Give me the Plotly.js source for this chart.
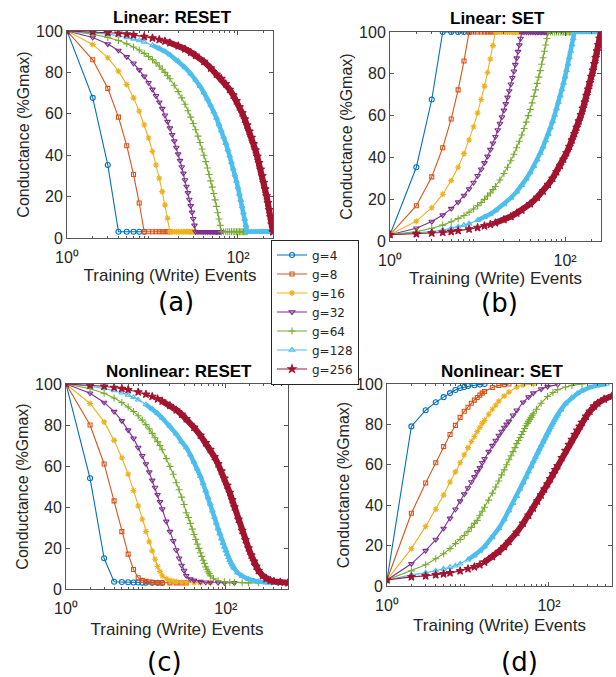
<!DOCTYPE html>
<html><head><meta charset="utf-8">
<script src="https://cdn.plot.ly/plotly-3.0.1.min.js"></script>
<style>html,body{margin:0;padding:0;background:#fff}</style>
</head><body><div id="chart" style="width:616px;height:677px"></div>
<script>
// ---------- series names / tick labels ----------
const seriesNames = ['g=4','g=8','g=16','g=32','g=64','g=128','g=256'];
const panelTitles = ['Linear: RESET','Linear: SET','Nonlinear: RESET','Nonlinear: SET'];
const panelLetters = ['(a)','(b)','(c)','(d)'];
const xTickVals = [1,100];
const xTickText = ['10\u2070','10\u00B2'];
const xMinorVals = [2,3,4,5,6,7,8,9,20,30,40,50,60,70,80,90,200,300,400,500,600];

// ---------- linear panels (a) RESET, (b) SET : write-event numbers ----------
const xL4 = [1,2,3,4,5,6,7,8];
const xL8 = [1,2,3,4,5,6,7,8,9,10,11,12,13,14,15,16];
const xL16 = [1,2,3,4,5,6,7,8,9,10,11,12,13,14,15,16,17,18,19,20,21,22,23,24,25,26,27,28,29,30,31,32];
const xL32 = [1,2,3,4,5,6,7,8,9,10,11,12,13,14,15,16,17,18,19,20,21,22,23,24,25,26,27,28,29,30,31,32,34,36,38,40,42,44,46,48,50,52,54,56,58,60,62,64];
const xL64 = [1,2,3,4,5,6,7,8,9,10,11,12,13,14,15,16,18,20,22,24,26,28,30,32,34,36,38,40,42,44,46,48,50,52,54,56,58,60,62,64,68,72,76,80,84,88,92,96,100,104,108,112,116,120,124,128];
const xL128 = [1,2,3,4,5,6,7,8,10,12,14,16,20,24,28,32,36,40,44,48,52,56,60,64,68,72,76,80,84,88,92,96,100,104,108,112,116,120,124,128,136,144,152,160,168,176,184,192,200,208,216,224,232,240,248,256];
const xL256 = [1,2,3,4,5,6,8,10,12,14,16,20,24,28,32,40,48,56,64,72,80,88,96,104,112,120,128,136,144,152,160,168,176,184,192,200,208,216,224,232,240,248,256];

// (a) Linear RESET conductance (%Gmax)
const resetLin4 = [100,67.7,35.3,3,3,3,3,3];
const resetLin8 = [100,86.1,72.3,58.4,44.6,30.7,16.9,3,3,3,3,3,3,3,3,3];
const resetLin16 = [100,93.5,87.1,80.6,74.1,67.7,61.2,54.7,48.3,41.8,35.3,28.9,22.4,15.9,9.5,3,3,3,3,3,3,3,3,3,3,3,3,3,3,3,3,3];
const resetLin32 = [100,96.9,93.7,90.6,87.5,84.4,81.2,78.1,75,71.8,68.7,65.6,62.5,59.3,56.2,53.1,49.9,46.8,43.7,40.5,37.4,34.3,31.2,28,24.9,21.8,18.6,15.5,12.4,9.3,6.1,3,3,3,3,3,3,3,3,3,3,3,3,3,3,3,3,3];
const resetLin64 = [100,98.5,96.9,95.4,93.8,92.3,90.8,89.2,87.7,86.1,84.6,83.1,81.5,80,78.4,76.9,73.8,70.7,67.7,64.6,61.5,58.4,55.3,52.3,49.2,46.1,43,40,36.9,33.8,30.7,27.6,24.6,21.5,18.4,15.3,12.2,9.2,6.1,3,3,3,3,3,3,3,3,3,3,3,3,3,3,3,3,3];
const resetLin128 = [100,99.2,98.5,97.7,96.9,96.2,95.4,94.7,93.1,91.6,90.1,88.5,85.5,82.4,79.4,76.3,73.3,70.2,67.2,64.1,61,58,54.9,51.9,48.8,45.8,42.7,39.7,36.6,33.5,30.5,27.4,24.4,21.3,18.3,15.2,12.2,9.1,6.1,3,3,3,3,3,3,3,3,3,3,3,3,3,3,3,3,3];
const resetLin256 = [100,99.6,99.2,98.9,98.5,98.1,97.3,96.6,95.8,95.1,94.3,92.8,91.3,89.7,88.2,85.2,82.1,79.1,77,74.5,71.7,69,66.2,63.3,60.4,57.4,54.5,51.5,48.5,45.5,42.5,39.4,36.3,33.2,30,26.8,23.6,20.3,17,13.6,10.2,6.7,3];

// (b) Linear SET conductance (%Gmax)
const setLin4 = [3,35.3,67.7,100,100,100,100,100];
const setLin8 = [3,16.9,30.7,44.6,58.4,72.3,86.1,100,100,100,100,100,100,100,100,100];
const setLin16 = [3,9.5,15.9,22.4,28.9,35.3,41.8,48.3,54.7,61.2,67.7,74.1,80.6,87.1,93.5,100,100,100,100,100,100,100,100,100,100,100,100,100,100,100,100,100];
const setLin32 = [3,6.1,9.3,12.4,15.5,18.6,21.8,24.9,28,31.2,34.3,37.4,40.5,43.7,46.8,49.9,53.1,56.2,59.3,62.5,65.6,68.7,71.8,75,78.1,81.2,84.4,87.5,90.6,93.7,96.9,100,100,100,100,100,100,100,100,100,100,100,100,100,100,100,100,100];
const setLin64 = [3,4.5,6.1,7.6,9.2,10.7,12.2,13.8,15.3,16.9,18.4,19.9,21.5,23,24.6,26.1,29.2,32.3,35.3,38.4,41.5,44.6,47.7,50.7,53.8,56.9,60,63,66.1,69.2,72.3,75.4,78.4,81.5,84.6,87.7,90.8,93.8,96.9,100,100,100,100,100,100,100,100,100,100,100,100,100,100,100,100,100];
const setLin128 = [3,3.8,4.5,5.3,6.1,6.8,7.6,8.3,9.9,11.4,12.9,14.5,17.5,20.6,23.6,26.7,29.7,32.8,35.8,38.9,42,45,48.1,51.1,54.2,57.2,60.3,63.3,66.4,69.5,72.5,75.6,78.6,81.7,84.7,87.8,90.8,93.9,96.9,100,100,100,100,100,100,100,100,100,100,100,100,100,100,100,100,100];
const setLin256 = [3,3.4,3.8,4.1,4.5,4.9,5.7,6.4,7.2,7.9,8.7,10.2,11.7,13.3,14.8,17.8,20.9,23.9,27,30,33.1,36.1,39.1,42.2,45.2,48.3,51.3,54.4,57.4,60.4,63.5,66.5,69.6,72.6,75.7,78.7,81.7,84.8,87.8,90.9,93.9,97,100];

// ---------- nonlinear panels (c) RESET, (d) SET ----------
const xN4 = [1,2,3,4,5,6,7,8,9,10,12,14,16];
const xN8 = [1,2,3,4,5,6,7,8,9,10,11,12,13,14,15,16,20,24,28,32];
const xN16 = [1,2,3,4,5,6,7,8,9,10,11,12,13,14,15,16,18,20,22,24,28,32,40,48,64];
const xN32 = [1,2,3,4,5,6,7,8,9,10,11,12,13,14,15,16,18,20,22,24,26,28,30,32,36,40,48,56,64,80,96,128];
const xN64 = [1,2,3,4,5,6,7,8,9,10,11,12,13,14,15,16,18,20,22,24,26,28,30,32,34,36,38,40,42,44,46,48,50,52,54,56,58,60,62,64,70,80,96,112,128,160,192,256];
const xN128 = [1,2,3,4,5,6,7,8,10,12,14,16,20,24,28,32,36,40,44,48,52,56,60,64,68,72,76,80,84,88,92,96,100,104,108,112,116,120,124,128,140,160,192,224,256,320,400,512];
const xN256 = [1,2,3,4,5,6,8,10,12,14,16,20,24,28,32,40,48,56,64,72,80,88,96,104,112,120,128,144,160,176,192,208,224,240,256,288,320,360,400,480,600];

// (c) Nonlinear RESET
const resetNl4 = [100,54,15,3.5,3.4,3.3,3.2,3.2,3.1,3.1,3,3,3];
const resetNl8 = [100,80,61,43,28,17,9.5,5.5,4.2,3.7,3.4,3.3,3.2,3.1,3.1,3,3,3,3,3];
const resetNl16 = [100,90.5,81.5,72.5,64,56,48,40.5,34,28,23,18.5,14.5,11,8.5,6.5,5,4.2,3.8,3.5,3.3,3.2,3.1,3,3];
const resetNl32 = [100,95.5,91,86.5,82,77.5,73.5,69,65,61,57,53,49.5,46,42.5,39,33,28,23.5,19,15,11.5,9,6.5,4.8,4.2,3.6,3.3,3.2,3.1,3,3];
const resetNl64 = [100,97.7,95.5,93.2,91,88.8,86.6,84.5,82.4,80.2,78.1,75.9,73.8,71.9,70,67.9,63.6,59.8,56,51.8,48.4,44.8,41.2,37.2,34.9,32,29.2,26.6,24.2,21.9,19.8,17.7,15.9,14,12.5,10.8,9.6,8.4,7.5,6.5,5,4,3.5,3.3,3.2,3.1,3,3];
const resetNl128 = [100,98.9,97.8,96.8,95.7,94.6,93.5,92.3,90,87.8,85.6,83.4,79.5,75.6,71.9,69,65.5,62,58.5,55,51.5,48,44.6,41.5,38.2,35,32.2,29.5,27,24.5,22.4,20.5,18.7,17,15.5,14,12.8,11.8,10.8,10,8,6.3,4.8,4,3.6,3.2,3,3];
const resetNl256 = [100,99.4,98.9,98.3,97.8,97.2,96.1,95,93.9,92.7,91.6,89.5,87.3,85.2,83,78.8,75,71.3,68,64.5,61,57.5,54,50.5,47,43.5,40,34,28.5,24,20,16.5,13.5,11,9,6.5,5,4.2,3.7,3.3,3];

// (d) Nonlinear SET
const setNl4 = [3,79,87,91,93.5,95.5,97,98,98.5,99,99.4,99.7,100];
const setNl8 = [3,36,51,61,69,75,79.5,83.5,86.5,88.5,90.5,92,93.3,94.5,95.5,96.3,98.3,99.3,99.7,100];
const setNl16 = [3,18.5,29.5,38,45,51.5,56.5,61,65,68.5,71.5,74,76.5,78.5,80.5,82,85,87.5,89.5,91.5,94,96,98.5,99.5,100];
const setNl32 = [3,11,17.5,23,28.5,33.5,38,42,45.5,48.5,51.5,54,56.5,58.5,61,63,66.5,69.5,72,74.5,76.5,78.5,80,81.5,84.5,87,91,93.5,95.5,97.5,98.7,99.7];
const setNl64 = [3,7.5,10.5,13.5,16,18.5,21,23,25,27,29,31,32.5,35,37,39,42.5,46,49,52,55,57.5,60,62.5,64.5,66.5,68.5,70.5,72,73.5,75,76.5,78,79.3,80.5,81.5,82.5,83.5,84.5,85.3,87.5,90.5,93.8,95.8,97.2,98.5,99.3,100];
const setNl128 = [3,5.5,6.5,7.5,8.5,9.3,10,11,13,15,17.3,19.5,24,28.5,33,37.3,41,44.5,48,51.2,54,56.7,59.2,61.6,63.8,65.9,67.8,69.6,71.3,72.9,74.4,75.8,77.2,78.5,79.7,80.8,81.9,82.9,83.9,84.8,87.2,90.3,93.3,95.3,96.7,98.3,99.3,100];
const setNl256 = [3,4.5,5,5.5,6,6.5,7.5,8.5,9.5,10.5,11.8,14.5,17,19.5,22,26.5,31,35,38.5,42,45,48,50.5,53,55.5,57.5,59.5,63.5,67,70,72.5,75,77,79,81,84,86.5,89,90.5,92.5,94];

// ---------- styling ----------
const colors = ['#0072BD','#D95319','#EDB120','#7E2F8E','#77AC30','#4DBEEE','#A2142F'];
const symbols = ['circle-open','square-open','asterisk-open','triangle-down-open','cross-thin-open','triangle-up-open','star'];
const msize = [5,4,5,5,5,5,6];
const W = 616, H = 677;
const px = v => v / W;
const py = v => 1 - v / H;

const panels = [
  {xs:[xL4,xL8,xL16,xL32,xL64,xL128,xL256], ys:[resetLin4,resetLin8,resetLin16,resetLin32,resetLin64,resetLin128,resetLin256], dom:[67,273,31,238], xmax:257, xs0:0},
  {xs:[xL4,xL8,xL16,xL32,xL64,xL128,xL256], ys:[setLin4,setLin8,setLin16,setLin32,setLin64,setLin128,setLin256], dom:[390,601,32,241], xmax:257, xs0:0},
  {xs:[xN4,xN8,xN16,xN32,xN64,xN128,xN256], ys:[resetNl4,resetNl8,resetNl16,resetNl32,resetNl64,resetNl128,resetNl256], dom:[66,288,384,589], xmax:600, xs0:6},
  {xs:[xN4,xN8,xN16,xN32,xN64,xN128,xN256], ys:[setNl4,setNl8,setNl16,setNl32,setNl64,setNl128,setNl256], dom:[387,612,384,586], xmax:600, xs0:5}
];

const traces = [];
const layout = {
  width: W, height: H, margin:{l:0,r:0,t:0,b:0},
  paper_bgcolor:'#fff', plot_bgcolor:'#fff', showlegend:true,
  legend:{x:px(271), y:py(312), xanchor:'left', yanchor:'middle', bgcolor:'#fff',
          bordercolor:'#262626', borderwidth:1, font:{family:'DejaVu Sans', size:12, color:'#262626'},
          tracegroupgap:0, itemwidth:30},
  annotations: []
};
const axisColor = '#555';
const tickFont = {family:'Liberation Sans, Arial, sans-serif', size:16, color:'#262626'};
const labFont = {family:'Liberation Sans, Arial, sans-serif', size:17, color:'#262626'};

panels.forEach((p, k) => {
  const n = k === 0 ? '' : String(k+1);
  const xa = 'x' + n, ya = 'y' + n;
  const [l, r, t, b] = p.dom;
  layout['xaxis' + n] = {
    type:'log', range:[0, Math.log10(p.xmax)], domain:[px(l), px(r)], anchor: ya,
    tickvals:xTickVals, ticktext:xTickText, ticks:'inside', ticklen:4, tickcolor:axisColor,
    ticklabelstandoff:5,
    showline:true, mirror:'ticks', linecolor:axisColor, linewidth:1, showgrid:false, zeroline:false,
    minor:{tickvals:xMinorVals, ticks:'inside', ticklen:2, tickcolor:axisColor, showgrid:false},
    tickfont:tickFont, automargin:false,
    title:{text:'Training (Write) Events', font:labFont, standoff:p.xs0}
  };
  layout['yaxis' + n] = {
    range:[0,100], domain:[py(b), py(t)], anchor: xa, tickvals:[0,20,40,60,80,100],
    ticks:'inside', ticklen:4, tickcolor:axisColor, showline:true, mirror:'ticks',
    linecolor:axisColor, linewidth:1, showgrid:false, zeroline:false, tickfont:tickFont, automargin:false,
    title:{text:'Conductance (%Gmax)', font:{family:'Liberation Sans, Arial, sans-serif', size:16, color:'#262626'}, standoff:2}
  };
  for (let i = 0; i < 7; i++) {
    // thick band under the dense series (g=128, g=256)
    if (i >= 5) {
      const xStart = i === 5 ? 10 : 16, w = i === 5 ? 4.5 : 6;
      const bx = [], by = [];
      p.xs[i].forEach((x, j) => { if (x >= xStart) { bx.push(x); by.push(p.ys[i][j]); } });
      traces.push({x:bx, y:by, xaxis:xa, yaxis:ya, mode:'lines', showlegend:false, hoverinfo:'skip',
                   line:{color:colors[i], width:w}});
    }
    traces.push({
      x:p.xs[i], y:p.ys[i], xaxis:xa, yaxis:ya, name:seriesNames[i], legendgroup:seriesNames[i],
      showlegend:k === 0, mode:'lines+markers',
      line:{color:colors[i], width:1.1},
      marker:{symbol:symbols[i], size:msize[i], color:colors[i], line:{color:colors[i], width:1.1}}
    });
  }
  layout.annotations.push({text:'<b>' + panelTitles[k] + '</b>', xref:'paper', yref:'paper',
    x:px((l + r) / 2 + 2), y:py(t - 13), xanchor:'center', yanchor:'middle', showarrow:false,
    font:{family:'Liberation Sans, Arial, sans-serif', size:17, color:'#000'}});
});
// panel letters
[[176,302],[499,303],[164,662],[519,662]].forEach(([x, y], k) => {
  layout.annotations.push({text:panelLetters[k], xref:'paper', yref:'paper', x:px(x), y:py(y),
    xanchor:'center', yanchor:'middle', showarrow:false, borderpad:0,
    font:{family:'DejaVu Sans', size:26, color:'#000'}});
});
Plotly.newPlot('chart', traces, layout, {displayModeBar:false, staticPlot:true});
</script></body></html>
